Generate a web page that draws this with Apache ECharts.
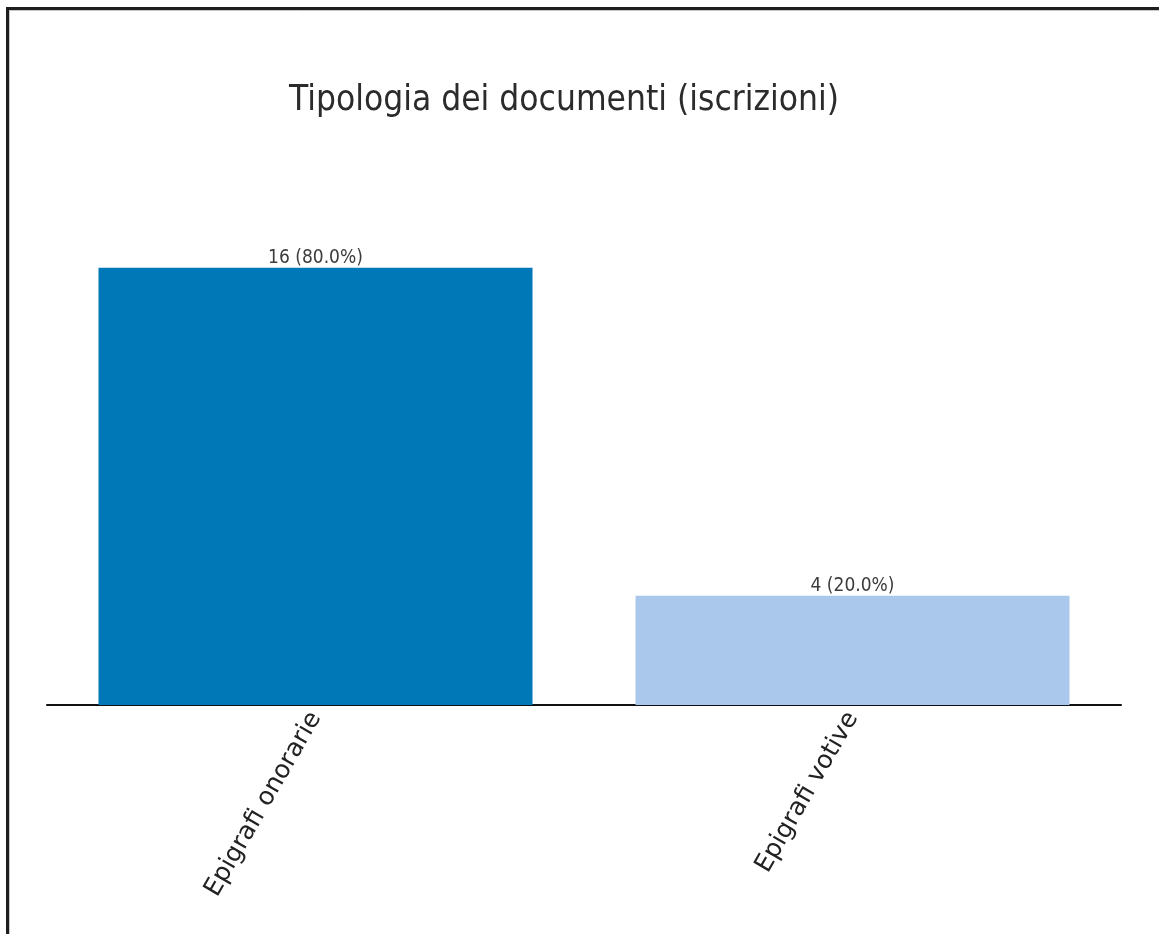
<!DOCTYPE html>
<html>
<head>
<meta charset="utf-8">
<title>Tipologia dei documenti (iscrizioni)</title>
<script src="https://cdn.jsdelivr.net/npm/echarts@6/dist/echarts.min.js"></script>
<style>
  html, body { margin: 0; padding: 0; background: #ffffff; }
  #chart { width: 1159px; height: 934px; }
</style>
</head>
<body>
<div id="chart"></div>
<script>
// Document types and their counts
const categories = ['Epigrafi onorarie', 'Epigrafi votive'];
const counts = [16, 4];
const barColors = ['#0077b6', '#a9c8eb'];

const total = counts.reduce((a, b) => a + b, 0);
const FONT = '"DejaVu Sans Condensed", "DejaVu Sans", sans-serif';
const LABEL_FONT = '"DejaVu Sans", sans-serif';

const chart = echarts.init(document.getElementById('chart'), null, { renderer: 'canvas' });

chart.setOption({
  animation: false,
  backgroundColor: '#ffffff',
  title: {
    text: 'Tipologia dei documenti (iscrizioni)',
    left: 564,
    textAlign: 'center',
    top: 83,
    padding: 0,
    textStyle: { fontFamily: FONT, fontSize: 35, fontWeight: 'normal', color: '#2b2b2b' }
  },
  grid: { left: 47, right: 38, top: 213, bottom: 229 },
  xAxis: {
    type: 'category',
    data: categories,
    axisLine: { show: true, lineStyle: { color: '#111', width: 2 } },
    axisTick: { show: true, alignWithLabel: true, inside: true, length: 3, lineStyle: { color: '#555' } },
    axisLabel: {
      rotate: 60,
      margin: 9,
      fontFamily: LABEL_FONT,
      fontSize: 25,
      color: '#222'
    }
  },
  yAxis: {
    type: 'value',
    min: 0,
    max: 18,
    show: false,
    splitLine: { show: false }
  },
  series: [{
    type: 'bar',
    barWidth: 434,
    data: counts.map((v, i) => ({ value: v, itemStyle: { color: barColors[i] } })),
    label: {
      show: true,
      position: 'top',
      distance: 0,
      fontFamily: FONT,
      fontSize: 19,
      color: '#3c3c3c',
      formatter: p => p.value + ' (' + (p.value / total * 100).toFixed(1) + '%)'
    }
  }],
  graphic: [
    { type: 'line', shape: { x1: 6, y1: 8.5, x2: 1159, y2: 8.5 }, style: { stroke: '#1e1e1e', lineWidth: 3 } },
    { type: 'line', shape: { x1: 7.5, y1: 7, x2: 7.5, y2: 934 }, style: { stroke: '#1e1e1e', lineWidth: 3 } },
    { type: 'line', shape: { x1: 9, y1: 10.5, x2: 1159, y2: 10.5 }, style: { stroke: '#c8c8c8', lineWidth: 1 } },
    { type: 'line', shape: { x1: 9.5, y1: 10, x2: 9.5, y2: 934 }, style: { stroke: '#c8c8c8', lineWidth: 1 } }
  ]
});
</script>
</body>
</html>
